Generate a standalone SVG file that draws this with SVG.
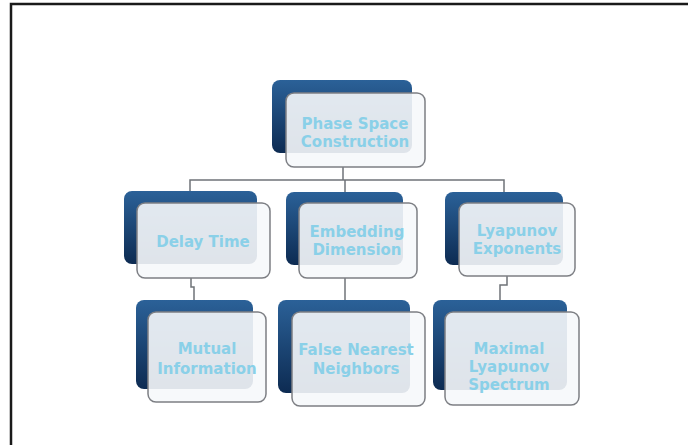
<svg xmlns="http://www.w3.org/2000/svg" width="688" height="445" viewBox="0 0 688 445">
  <defs>
    <linearGradient id="deep" x1="0" y1="0" x2="0" y2="1">
      <stop offset="0" stop-color="#2b6198"/>
      <stop offset="1" stop-color="#0d2b52"/>
    </linearGradient>
    <style>
      .back { fill: url(#deep); }
      .front { fill: #f6f8fb; fill-opacity: 0.9; stroke: #7d7f84; stroke-width: 1.5; }
      .label { font-family: "DejaVu Sans", "Liberation Sans", sans-serif; font-weight: bold; font-size: 15px; fill: #8ad0e8; text-anchor: middle; }
      .wire { fill: none; stroke: #6f7378; stroke-width: 1.5; }
      .frame { fill: none; stroke: #1a1a1a; stroke-width: 2.5; }
    </style>
  </defs>

  <rect width="688" height="445" fill="#ffffff"/>
  <!-- page frame: top and left edges only -->
  <path class="frame" d="M11,445 V4 H688"/>

  <!-- connectors -->
  <g id="connectors">
    <path class="wire" d="M343,167 V180"/>
    <path class="wire" d="M190,192 V180 H504 V192"/>
    <path class="wire" d="M345,180 V192"/>
    <path class="wire" d="M191,278 V287 H194 V300"/>
    <path class="wire" d="M345,278 V300"/>
    <path class="wire" d="M507,276 V285 H500 V300"/>
  </g>

  <g id="phase-space">
    <rect class="back" x="272" y="80" width="140" height="73" rx="8"/>
    <rect class="front" x="286" y="93" width="139" height="74" rx="8"/>
    <text class="label" x="355" y="129">Phase Space</text>
    <text class="label" x="355" y="147">Construction</text>
  </g>

  <g id="delay-time">
    <rect class="back" x="124" y="191" width="133" height="73" rx="8"/>
    <rect class="front" x="137" y="203" width="133" height="75" rx="8"/>
    <text class="label" x="203" y="247">Delay Time</text>
  </g>

  <g id="embedding-dimension">
    <rect class="back" x="286" y="192" width="117" height="73" rx="8"/>
    <rect class="front" x="299" y="203" width="118" height="75" rx="8"/>
    <text class="label" x="357" y="237">Embedding</text>
    <text class="label" x="357" y="255">Dimension</text>
  </g>

  <g id="lyapunov-exponents">
    <rect class="back" x="445" y="192" width="118" height="73" rx="8"/>
    <rect class="front" x="459" y="203" width="116" height="73" rx="8"/>
    <text class="label" x="517" y="236">Lyapunov</text>
    <text class="label" x="517" y="254">Exponents</text>
  </g>

  <g id="mutual-information">
    <rect class="back" x="136" y="300" width="117" height="89" rx="8"/>
    <rect class="front" x="148" y="312" width="118" height="90" rx="8"/>
    <text class="label" x="207" y="354">Mutual</text>
    <text class="label" x="207" y="374">Information</text>
  </g>

  <g id="false-nearest-neighbors">
    <rect class="back" x="278" y="300" width="132" height="93" rx="8"/>
    <rect class="front" x="292" y="312" width="133" height="94" rx="8"/>
    <text class="label" x="356" y="355">False Nearest</text>
    <text class="label" x="356" y="374">Neighbors</text>
  </g>

  <g id="maximal-lyapunov-spectrum">
    <rect class="back" x="433" y="300" width="134" height="90" rx="8"/>
    <rect class="front" x="445" y="312" width="134" height="93" rx="8"/>
    <text class="label" x="509" y="354">Maximal</text>
    <text class="label" x="509" y="372">Lyapunov</text>
    <text class="label" x="509" y="390">Spectrum</text>
  </g>
</svg>
